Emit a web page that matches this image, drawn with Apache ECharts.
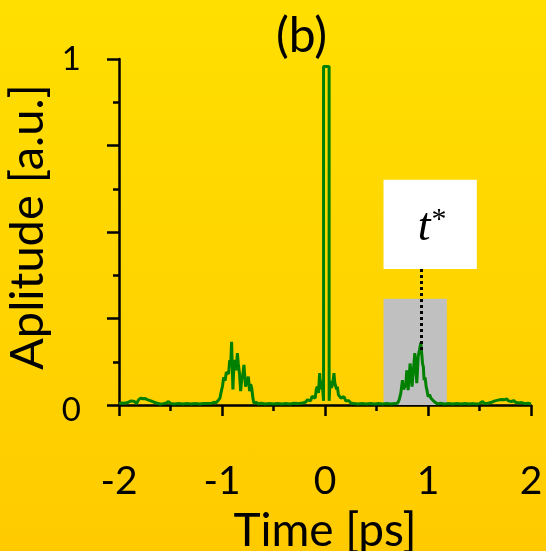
<!DOCTYPE html>
<html>
<head>
<meta charset="utf-8">
<script src="https://cdn.jsdelivr.net/npm/echarts@6/dist/echarts.min.js"></script>
<style>
html,body{margin:0;padding:0;}
#chart{width:546px;height:551px;background:linear-gradient(to bottom,#FFDF00 0%,#FFCB00 100%);}
</style>
</head>
<body>
<div id="chart"></div>
<script>
// Data
const timePs = [
 -2.00,-1.97,-1.94,-1.91,-1.88,-1.85,-1.83,-1.81,-1.79,-1.77,-1.75,-1.72,-1.69,-1.66,-1.63,-1.60,-1.57,-1.54,-1.52,-1.50,
 -1.46,-1.42,-1.38,-1.34,-1.30,-1.26,-1.22,-1.18,-1.14,-1.10,-1.08,-1.06,-1.04,-1.02,-1.01,-0.995,-0.984,-0.97,-0.958,-0.948,
 -0.936,-0.925,-0.915,-0.907,-0.894,-0.885,-0.872,-0.862,-0.851,-0.842,-0.83,-0.819,-0.81,-0.797,-0.787,-0.771,-0.757,-0.744,-0.732,-0.722,
 -0.712,-0.70,-0.69,-0.67,-0.65,-0.62,-0.58,-0.54,-0.50,-0.46,-0.42,-0.38,-0.34,-0.30,-0.26,-0.22,-0.19,-0.17,-0.155,-0.14,
 -0.125,-0.107,-0.095,-0.085,-0.074,-0.063,-0.052,-0.042,-0.034,-0.027,-0.014,-0.014,0.040,0.040,0.05,0.062,0.075,0.087,0.095,0.104,
 0.112,0.12,0.13,0.143,0.155,0.17,0.185,0.20,0.215,0.233,0.25,0.28,0.32,0.36,0.40,0.44,0.48,0.52,0.56,0.60,
 0.64,0.68,0.704,0.72,0.736,0.752,0.763,0.775,0.785,0.794,0.807,0.817,0.826,0.836,0.845,0.858,0.872,0.882,0.891,0.905,
 0.917,0.930,0.947,0.955,0.962,0.972,0.982,0.992,1.001,1.015,1.027,1.045,1.059,1.075,1.092,1.12,1.16,1.20,1.24,1.28,
 1.32,1.36,1.40,1.44,1.47,1.50,1.53,1.55,1.58,1.62,1.65,1.68,1.71,1.74,1.765,1.78,1.79,1.81,1.83,1.85,
 1.88,1.91,1.94,1.97,2.00
];
const amplitude = [
 0.004,0.006,0.005,0.008,0.012,0.010,0.004,0.015,0.020,0.018,0.019,0.015,0.012,0.008,0.005,0.003,0.004,0.006,0.010,0.004,
 0.003,0.004,0.003,0.004,0.003,0.004,0.003,0.004,0.004,0.005,0.008,0.006,0.012,0.020,0.035,0.055,0.080,0.070,0.095,0.100,
 0.090,0.130,0.120,0.183,0.045,0.110,0.130,0.100,0.150,0.120,0.090,0.040,0.070,0.090,0.116,0.053,0.070,0.082,0.040,0.060,
 0.050,0.020,0.005,0.008,0.003,0.005,0.003,0.004,0.003,0.004,0.003,0.004,0.003,0.005,0.004,0.006,0.008,0.015,0.020,0.012,
 0.025,0.030,0.020,0.045,0.053,0.035,0.092,0.045,0.070,0.063,0.012,0.978,0.978,0.012,0.070,0.050,0.060,0.092,0.065,0.060,
 0.045,0.053,0.030,0.030,0.020,0.024,0.024,0.012,0.015,0.012,0.006,0.004,0.003,0.004,0.003,0.004,0.003,0.004,0.003,0.004,
 0.003,0.004,0.005,0.015,0.034,0.072,0.045,0.053,0.060,0.100,0.043,0.080,0.120,0.090,0.053,0.100,0.150,0.110,0.063,0.140,
 0.159,0.180,0.120,0.110,0.072,0.080,0.053,0.040,0.024,0.030,0.020,0.015,0.010,0.012,0.003,0.005,0.003,0.004,0.003,0.004,
 0.003,0.004,0.003,0.004,0.003,0.004,0.010,0.004,0.005,0.008,0.012,0.014,0.016,0.015,0.018,0.012,0.017,0.010,0.013,0.008,
 0.006,0.007,0.004,0.005,0.003
];
const xTicks = [-2, -1, 0, 1, 2];
const yTickLabels = [0, 1];
// overlay annotations (data coordinates)
const grayBox = {x: [0.568, 1.183], y: [0, 0.307]};
const labelBox = {x: [0.568, 1.474], y: [0.393, 0.651]};
const markerLine = {x: 0.93, y: [0.393, 0.155]};

const lineData = timePs.map((t, i) => [t, amplitude[i]]);
const FONT = 'Lato';

const chart = echarts.init(document.getElementById('chart'), null, {renderer: 'canvas'});
chart.setOption({
  backgroundColor: 'transparent',
  animation: false,
  title: {
    text: '(b)', left: 271, top: 8,
    textStyle: {fontFamily: FONT, fontSize: 48, fontWeight: 'normal', color: '#000'}
  },
  grid: {left: 119, right: 15, top: 59, bottom: 146, containLabel: false, outerBoundsMode: 'none'},
  xAxis: {
    type: 'value', min: -2, max: 2, interval: 1,
    name: 'Time [ps]', nameLocation: 'middle', nameGap: 103,
    nameTextStyle: {fontFamily: FONT, fontSize: 46, color: '#000'},
    axisLine: {onZero: false, lineStyle: {color: '#000', width: 2.5}},
    axisTick: {show: true, length: 11, lineStyle: {color: '#000', width: 2.5}},
    minorTick: {show: true, splitNumber: 2, length: 6, lineStyle: {color: '#000', width: 2.5}},
    splitLine: {show: false}, minorSplitLine: {show: false},
    axisLabel: {
      margin: 57, fontFamily: FONT, fontSize: 39, color: '#000',
      formatter: v => xTicks.indexOf(v) >= 0 ? String(v) : ''
    }
  },
  yAxis: {
    type: 'value', min: 0, max: 1, interval: 0.25,
    name: 'Aplitude [a.u.]', nameLocation: 'middle', nameGap: 49,
    nameTextStyle: {fontFamily: FONT, fontSize: 47, color: '#000', padding: [0, 0, 0, 10]},
    axisLine: {onZero: false, lineStyle: {color: '#000', width: 2.5}},
    axisTick: {show: true, length: 12, lineStyle: {color: '#000', width: 2.5}},
    minorTick: {show: true, splitNumber: 2, length: 6, lineStyle: {color: '#000', width: 2.5}},
    splitLine: {show: false}, minorSplitLine: {show: false},
    axisLabel: {
      margin: 38, fontFamily: FONT, fontSize: 33, color: '#000',
      formatter: v => v === 0 ? '{z|0}' : (yTickLabels.indexOf(v) >= 0 ? String(v) : ''),
      rich: {z: {fontFamily: FONT, fontSize: 33, color: '#000', padding: [10, 0, 0, 0]}}
    }
  },
  series: [
    {
      type: 'line', data: [], z: 1, silent: true,
      markArea: {
        silent: true,
        data: [
          [{coord: [grayBox.x[0], grayBox.y[0]], itemStyle: {color: '#C0C0C0', opacity: 1}},
           {coord: [grayBox.x[1], grayBox.y[1]]}],
          [{coord: [labelBox.x[0], labelBox.y[0]], itemStyle: {color: '#FFFFFF', opacity: 1},
            label: {
              show: true, position: 'inside', offset: [2, 4],
              formatter: '{t|t}{s|*}',
              rich: {
                t: {fontFamily: 'Liberation Serif', fontStyle: 'italic', fontSize: 46, color: '#000'},
                s: {fontFamily: 'Liberation Serif', fontSize: 30, color: '#000', verticalAlign: 'top', padding: [0, 0, 0, 1]}
              }
            }},
           {coord: [labelBox.x[1], labelBox.y[1]]}]
        ]
      }
    },
    {
      type: 'line', data: lineData, z: 3, showSymbol: false, symbol: 'none',
      lineStyle: {color: '#008000', width: 3}
    },
    {
      type: 'line', data: [], z: 4, silent: true,
      markLine: {
        silent: true, symbol: 'none', label: {show: false},
        lineStyle: {color: '#000', width: 3, type: [3, 3]},
        data: [[{coord: [markerLine.x, markerLine.y[0]]}, {coord: [markerLine.x, markerLine.y[1]]}]]
      }
    }
  ]
});
</script>
</body>
</html>
